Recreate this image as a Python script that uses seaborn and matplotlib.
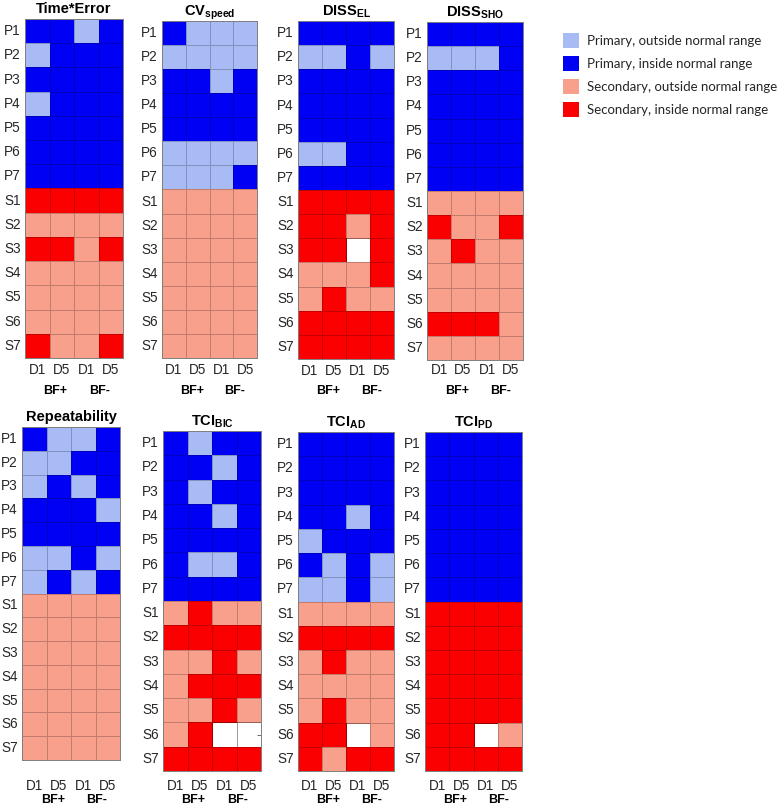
import numpy as np
import pandas as pd
import matplotlib
matplotlib.use("Agg")
import matplotlib.pyplot as plt
from matplotlib.colors import ListedColormap
from matplotlib.patches import Patch
from matplotlib.transforms import blended_transform_factory
import seaborn as sns

sns.set_theme(style="white")
plt.rcParams['font.family'] = ['Liberation Sans', 'DejaVu Sans']
plt.rcParams['mathtext.fontset'] = 'custom'
plt.rcParams['mathtext.rm'] = 'Liberation Sans'
plt.rcParams['mathtext.bf'] = 'Liberation Sans:bold'

# ---- data: 0 primary outside, 1 primary inside, 2 secondary outside, 3 secondary inside, nan missing
rows = ["P1", "P2", "P3", "P4", "P5", "P6", "P7", "S1", "S2", "S3", "S4", "S5", "S6", "S7"]
cols = ["D1", "D5", "D1", "D5"]
groups = ["BF+", "BF-"]
N = np.nan

time_error = [[1, 1, 0, 1], [0, 1, 1, 1], [1, 1, 1, 1], [0, 1, 1, 1], [1, 1, 1, 1], [1, 1, 1, 1], [1, 1, 1, 1],
              [3, 3, 3, 3], [2, 2, 2, 2], [3, 3, 2, 3], [2, 2, 2, 2], [2, 2, 2, 2], [2, 2, 2, 2], [3, 2, 2, 3]]
cv_speed = [[1, 0, 0, 0], [0, 0, 0, 0], [1, 1, 0, 1], [1, 1, 1, 1], [1, 1, 1, 1], [0, 0, 0, 0], [0, 0, 0, 1],
            [2, 2, 2, 2], [2, 2, 2, 2], [2, 2, 2, 2], [2, 2, 2, 2], [2, 2, 2, 2], [2, 2, 2, 2], [2, 2, 2, 2]]
diss_el = [[1, 1, 1, 1], [0, 0, 1, 0], [1, 1, 1, 1], [1, 1, 1, 1], [1, 1, 1, 1], [0, 0, 1, 1], [1, 1, 1, 1],
           [3, 3, 3, 3], [3, 3, 2, 3], [3, 3, N, 3], [2, 2, 2, 3], [2, 3, 2, 2], [3, 3, 3, 3], [3, 3, 3, 3]]
diss_sho = [[1, 1, 1, 1], [0, 0, 0, 1], [1, 1, 1, 1], [1, 1, 1, 1], [1, 1, 1, 1], [1, 1, 1, 1], [1, 1, 1, 1],
            [2, 2, 2, 2], [3, 2, 2, 3], [2, 3, 2, 2], [2, 2, 2, 2], [2, 2, 2, 2], [3, 3, 3, 2], [2, 2, 2, 2]]
repeatability = [[1, 0, 0, 1], [0, 0, 1, 1], [0, 1, 0, 1], [1, 1, 1, 0], [1, 1, 1, 1], [0, 0, 1, 0], [0, 1, 0, 1],
                 [2, 2, 2, 2], [2, 2, 2, 2], [2, 2, 2, 2], [2, 2, 2, 2], [2, 2, 2, 2], [2, 2, 2, 2], [2, 2, 2, 2]]
tci_bic = [[1, 0, 1, 1], [1, 1, 0, 1], [1, 0, 1, 1], [1, 1, 0, 1], [1, 1, 1, 1], [1, 0, 0, 1], [1, 1, 1, 1],
           [2, 3, 2, 2], [3, 3, 3, 3], [2, 2, 3, 2], [2, 3, 3, 3], [2, 2, 3, 2], [2, 3, N, N], [3, 3, 3, 3]]
tci_ad = [[1, 1, 1, 1], [1, 1, 1, 1], [1, 1, 1, 1], [1, 1, 0, 1], [0, 1, 1, 1], [1, 0, 1, 0], [0, 0, 1, 0],
          [2, 2, 2, 2], [3, 3, 3, 3], [2, 3, 2, 2], [2, 2, 2, 2], [2, 3, 2, 2], [3, 3, N, 2], [3, 2, 3, 3]]
tci_pd = [[1, 1, 1, 1], [1, 1, 1, 1], [1, 1, 1, 1], [1, 1, 1, 1], [1, 1, 1, 1], [1, 1, 1, 1], [1, 1, 1, 1],
          [3, 3, 3, 3], [3, 3, 3, 3], [3, 3, 3, 3], [3, 3, 3, 3], [3, 3, 3, 3], [3, 3, N, 2], [3, 3, 3, 3]]

titles = ["Time*Error", r"$\mathbf{CV_{speed}}$", r"$\mathbf{DISS_{EL}}$", r"$\mathbf{DISS_{SHO}}$",
          "Repeatability", r"$\mathbf{TCI_{BIC}}$", r"$\mathbf{TCI_{AD}}$", r"$\mathbf{TCI_{PD}}$"]
panels = [time_error, cv_speed, diss_el, diss_sho, repeatability, tci_bic, tci_ad, tci_pd]

legend_labels = ["Primary, outside normal range", "Primary, inside normal range",
                 "Secondary, outside normal range", "Secondary, inside normal range"]
colors = ["#a9bbf4", "#0000f5", "#f9a08d", "#fb0000"]

# ---- layout (pixel rects: left, top, right, bottom), tick-label rows and group-label rows
W, H = 778, 808
rects = [(25, 19, 123, 358), (162, 21, 257, 358), (298, 21, 394, 359), (427, 22, 523, 360),
         (22, 427, 120, 760), (163, 431, 261, 771), (298, 432, 394, 771), (425, 432, 522, 771)]
xlabel_y = [370] * 4 + [785] * 4
group_y = [391] * 4 + [800] * 4

fig = plt.figure(figsize=(W / 100, H / 100), dpi=100)
cmap = ListedColormap(colors)
tick_color = "#262626"

for data, title, (l, t, r, b), ly, gy in zip(panels, titles, rects, xlabel_y, group_y):
    ax = fig.add_axes([l / W, 1 - b / H, (r - l) / W, (b - t) / H])
    df = pd.DataFrame(np.array(data, dtype=float), index=rows, columns=range(len(cols)))
    sns.heatmap(df, ax=ax, cmap=cmap, vmin=-0.5, vmax=3.5, cbar=False,
                linewidths=0.5, linecolor=(0, 0, 0, 0.22),
                xticklabels=cols, yticklabels=rows)
    ax.set_facecolor("white")
    for s in ax.spines.values():
        s.set_visible(True)
        s.set_color("#7f7f7f")
        s.set_linewidth(0.7)
    xpad = max(2.0, (ly - b - 6.5) * 0.72)
    ax.tick_params(axis="both", direction="in", length=3, width=0.6, color="#555555",
                   labelsize=9.8, labelcolor=tick_color)
    ax.tick_params(axis="y", right=True, left=True, labelrotation=0, pad=3)
    ax.tick_params(axis="x", top=True, bottom=True, labelrotation=0, pad=xpad)
    ax.set_xlabel("")
    ax.set_ylabel("")
    ax.set_title(title, fontsize=10.5, fontweight="bold", color="black", pad=4)
    tr = blended_transform_factory(ax.transData, fig.transFigure)
    for gx, g in zip([1.25, 3.05], groups):
        ax.text(gx, 1 - gy / H, g, transform=tr, ha="center", va="center",
                fontsize=9, fontweight="bold", color="black")

handles = [Patch(facecolor=c, edgecolor="none") for c in colors]
fig.legend(handles, legend_labels, loc="upper left", bbox_to_anchor=(551 / W, 1 - 21 / H),
           frameon=False, prop={"family": "Lato", "size": 9.5},
           handlelength=1.25, handleheight=1.35, handletextpad=0.55, labelspacing=0.62)

fig.savefig("out.png", dpi=100, facecolor="white")
